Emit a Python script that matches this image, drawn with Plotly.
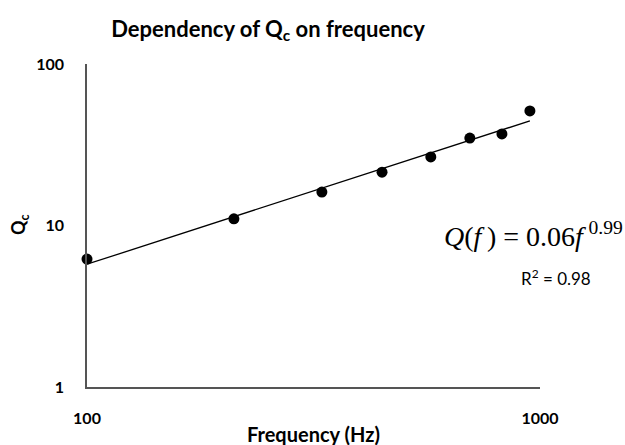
import numpy as np
import plotly.graph_objects as go

freq = [100, 211, 330, 448, 574, 700, 824, 950]
qc = [6.2, 11.0, 16.1, 21.4, 26.6, 34.8, 36.9, 51.2]
x_ticks = [100, 1000]
y_ticks = [1, 10, 100]

# power-law trendline fitted in log space
b, a = np.polyfit(np.log10(freq), np.log10(qc), 1)
trend_x = np.array([freq[0], freq[-1]])
trend_y = 10 ** (a + b * np.log10(trend_x))

fig = go.Figure()
fig.add_trace(go.Scatter(x=trend_x, y=trend_y, mode="lines",
                         line=dict(color="black", width=1.3), hoverinfo="skip",
                         cliponaxis=False))
fig.add_trace(go.Scatter(x=freq, y=qc, mode="markers",
                         marker=dict(color="black", size=11), cliponaxis=False))

W, H = 625, 445
L, R, T, B = 87, 85, 64, 58
PW, PH = W - L - R, H - T - B


def px(xp):
    return (xp - L) / PW


def py(yp):
    return (H - B - yp) / PH


fig.update_layout(
    width=W, height=H,
    margin=dict(l=L, r=R, t=T, b=B),
    paper_bgcolor="white", plot_bgcolor="white",
    showlegend=False,
    font=dict(family="Lato", color="black"),
    title=dict(text="<b>Dependency of Q<sub>c</sub> on frequency</b>",
               x=268 / W, xanchor="center", y=1 - 29 / H, yanchor="middle",
               font=dict(size=22, family="Lato", color="black")),
    xaxis=dict(type="log", range=[2, 3], tickvals=x_ticks,
               ticktext=[f"<b>{v}</b>" for v in x_ticks],
               showgrid=False, zeroline=False, showline=True, automargin=False,
               linecolor="#555555", linewidth=1.5, ticks="",
               ticklabelstandoff=16, tickfont=dict(size=16)),
    yaxis=dict(type="log", range=[0, 2], tickvals=y_ticks,
               ticktext=[f"<b>{v}</b>" for v in y_ticks],
               showgrid=False, zeroline=False, showline=True, automargin=False,
               linecolor="#555555", linewidth=1.5, ticks="",
               ticklabelstandoff=18, tickfont=dict(size=16)),
    annotations=[
        dict(xref="paper", yref="paper", x=px(313), y=py(434),
             xanchor="center", yanchor="middle", showarrow=False,
             text="<b>Frequency (Hz)</b>", font=dict(size=20)),
        dict(xref="paper", yref="paper", x=px(19), y=py(225),
             xanchor="center", yanchor="middle", showarrow=False, textangle=-90,
             text="<b>Q<sub>c</sub></b>", font=dict(size=18)),
        dict(xref="paper", yref="paper", x=px(442), y=py(234),
             xanchor="left", yanchor="middle", showarrow=False,
             text="<i>Q</i>(<i>f</i>&#8201;) = 0.06<i>f</i>&#8201;<sup>0.99</sup>",
             font=dict(family="Liberation Serif", size=28, color="black")),
        dict(xref="paper", yref="paper", x=px(519), y=py(277),
             xanchor="left", yanchor="middle", showarrow=False,
             text="R<sup>2</sup> = 0.98",
             font=dict(family="Lato", size=17, color="black")),
    ],
)

fig.write_html("out.html")
